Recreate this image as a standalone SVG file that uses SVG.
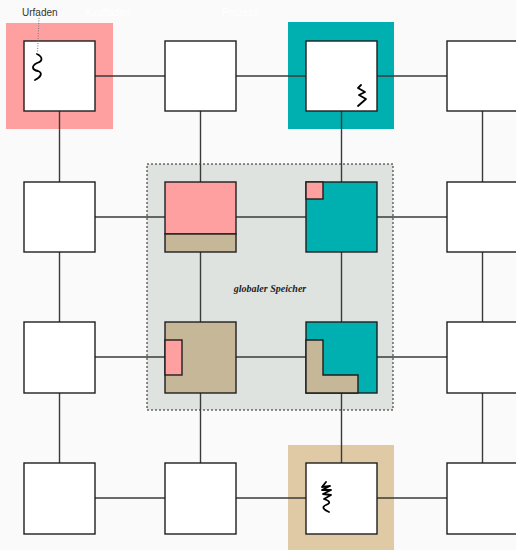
<svg xmlns="http://www.w3.org/2000/svg" width="516" height="550" viewBox="0 0 516 550">
<style>
.bg{fill:#fafafa}
.node{fill:#fff;stroke:#1e1e1e;stroke-width:1.4}
.conn line{stroke:#3a3a3a;stroke-width:1.4}
.pink{fill:#ffa0a0}
.teal{fill:#00b0b0}
.tan{fill:#c5b797}
.part{stroke:#1e1e1e;stroke-width:1.4}
.sq{fill:none;stroke:#000;stroke-width:1.8;stroke-linejoin:round;stroke-linecap:round}
.lbl{font-family:"Liberation Sans",Arial,sans-serif;font-size:10px}
</style>
<rect class="bg" x="0" y="0" width="516" height="550"/>
<g id="highlights">
<rect x="6" y="23" width="107" height="106" fill="#ffa0a0"/>
<rect x="288" y="22" width="106" height="107" fill="#00b0b0"/>
<rect x="288" y="445" width="106" height="105" fill="#dfcaa5"/>
</g>
<g id="memory">
<rect x="147" y="164" width="246" height="246" fill="#dfe3df" stroke="#222" stroke-width="1" stroke-dasharray="2,2"/>
<text x="270" y="292" text-anchor="middle" font-family="'Liberation Serif',serif" font-size="10" font-weight="bold" font-style="italic" fill="#222">globaler Speicher</text>
</g>
<g id="connectors" class="conn">
<line x1="95" y1="76" x2="165" y2="76"/>
<line x1="236" y1="76" x2="306" y2="76"/>
<line x1="377" y1="76" x2="447" y2="76"/>
<line x1="95" y1="217" x2="165" y2="217"/>
<line x1="236" y1="217" x2="306" y2="217"/>
<line x1="377" y1="217" x2="447" y2="217"/>
<line x1="95" y1="357" x2="165" y2="357"/>
<line x1="236" y1="357" x2="306" y2="357"/>
<line x1="377" y1="357" x2="447" y2="357"/>
<line x1="95" y1="498" x2="165" y2="498"/>
<line x1="236" y1="498" x2="306" y2="498"/>
<line x1="377" y1="498" x2="447" y2="498"/>
<line x1="59.5" y1="111" x2="59.5" y2="182"/>
<line x1="200.5" y1="111" x2="200.5" y2="182"/>
<line x1="341.5" y1="111" x2="341.5" y2="182"/>
<line x1="482.5" y1="111" x2="482.5" y2="182"/>
<line x1="59.5" y1="252" x2="59.5" y2="322"/>
<line x1="200.5" y1="252" x2="200.5" y2="322"/>
<line x1="341.5" y1="252" x2="341.5" y2="322"/>
<line x1="482.5" y1="252" x2="482.5" y2="322"/>
<line x1="59.5" y1="393" x2="59.5" y2="463"/>
<line x1="200.5" y1="393" x2="200.5" y2="463"/>
<line x1="341.5" y1="393" x2="341.5" y2="463"/>
<line x1="482.5" y1="393" x2="482.5" y2="463"/>
</g>
<g id="n11"><rect class="node" x="24" y="41" width="71" height="70"/>
<path class="sq" d="M37,54 C43,57 43,61 37,63 C31,66 32,70 38,71 C43,73 41,77 35,80"/></g>
<g id="n12"><rect class="node" x="165" y="41" width="71" height="70"/></g>
<g id="n13"><rect class="node" x="306" y="41" width="71" height="70"/>
<path class="sq" d="M361,85 L358,88 L365,92 L359,95 L366,99 L358,106"/></g>
<g id="n14"><rect class="node" x="447" y="41" width="71" height="70"/></g>
<g id="n21"><rect class="node" x="24" y="182" width="71" height="70"/></g>
<g id="n22"><rect class="pink part" x="165" y="182" width="71" height="52"/><rect class="tan part" x="165" y="234" width="71" height="18"/></g>
<g id="n23"><rect class="teal part" x="306" y="182" width="71" height="70"/><rect class="pink part" x="306" y="182" width="17" height="17"/></g>
<g id="n24"><rect class="node" x="447" y="182" width="71" height="70"/></g>
<g id="n31"><rect class="node" x="24" y="322" width="71" height="71"/></g>
<g id="n32"><rect class="tan part" x="165" y="322" width="71" height="71"/><rect class="pink part" x="165" y="340" width="17" height="35"/></g>
<g id="n33"><rect class="teal part" x="306" y="322" width="71" height="71"/><path class="tan part" d="M306,340 H323 V375 H358 V393 H306 Z"/></g>
<g id="n34"><rect class="node" x="447" y="322" width="71" height="71"/></g>
<g id="n41"><rect class="node" x="24" y="463" width="71" height="71"/></g>
<g id="n42"><rect class="node" x="165" y="463" width="71" height="71"/></g>
<g id="n43"><rect class="node" x="306" y="463" width="71" height="71"/>
<path class="sq" d="M326,482 L322,487 L330,486 L322,490 L331,490 L323,494 L331,495 L324,499 C330,501 331,503 326,505 C321,507 324,510 329,512"/></g>
<g id="n44"><rect class="node" x="447" y="463" width="71" height="71"/></g>
<g id="labels">
<path d="M39,18 L37.5,54" stroke="#777" stroke-width="1" stroke-dasharray="1,1.5" fill="none"/>
<text class="lbl" x="22" y="16" fill="#333">Urfaden</text>
<text class="lbl" x="85" y="16" fill="#ffffff">Kindfaden</text>
<text class="lbl" x="222" y="16" fill="#ffffff">Prozess</text>
</g>
</svg>
